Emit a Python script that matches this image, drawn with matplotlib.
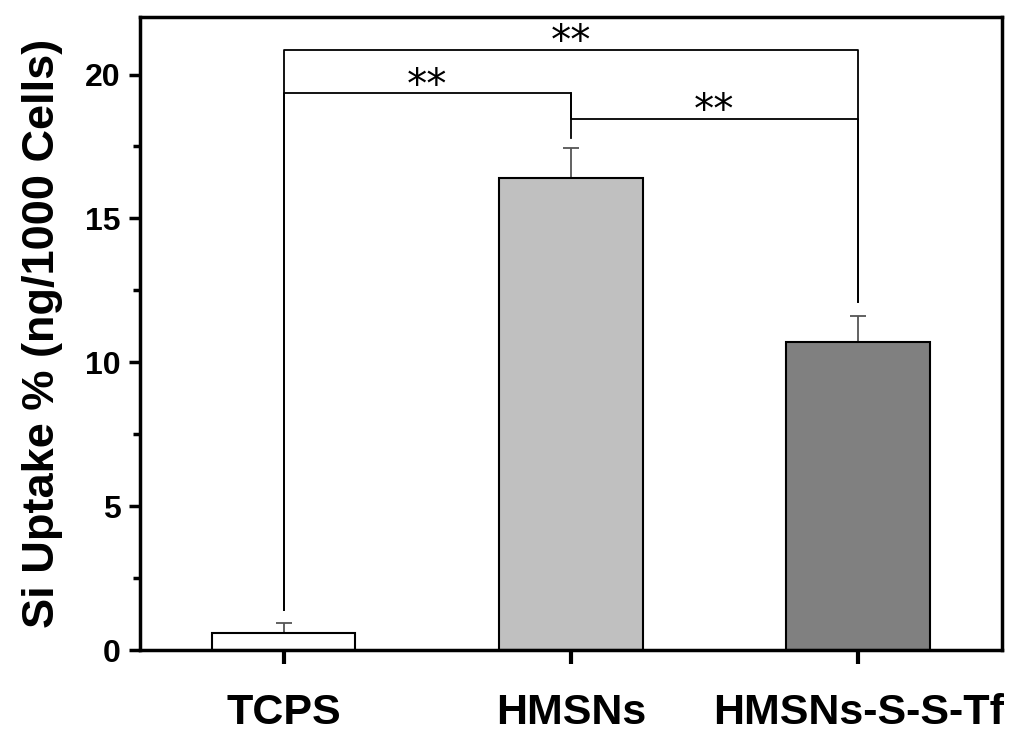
import numpy as np
import matplotlib
matplotlib.use('Agg')
from matplotlib import pyplot as plt
from matplotlib.ticker import MultipleLocator

groups = ['TCPS', 'HMSNs', 'HMSNs-S-S-Tf']
uptake = [0.6, 16.4, 10.7]
err = [0.35, 1.05, 0.92]
colors = ['white', '#c0c0c0', '#808080']

# significance brackets: (left group, right group, bracket height, left end, right end)
brackets = [
    (0, 2, 20.87, 1.4, 12.1),
    (0, 1, 19.37, 1.4, 17.8),
    (1, 2, 18.47, 19.37, 12.1),
]
sig_label = '**'

plt.rcParams['font.family'] = ['Liberation Sans', 'DejaVu Sans']

fig = plt.figure(figsize=(10.18, 7.33), dpi=100)
ax = fig.add_axes([0.1375, 0.1132, 0.8465, 0.8636])

x = np.arange(1, len(groups) + 1)
ax.bar(x, uptake, width=0.5, color=colors, edgecolor='black', linewidth=1.5, zorder=2)
ax.errorbar(x, uptake, yerr=[np.zeros(len(err)), err], fmt='none',
            ecolor='#555555', elinewidth=1.3, capsize=6, capthick=1.3, zorder=1)

for i, j, h, yl, yr in brackets:
    ax.plot([x[i], x[i], x[j], x[j]], [yl, h, h, yr], color='black', lw=1.3, zorder=3)
    ax.annotate(sig_label, ((x[i] + x[j]) / 2, h), xytext=(0, -3.5),
                textcoords='offset points', ha='center', va='baseline',
                fontsize=29, family='DejaVu Sans')

ax.set_xlim(0.5, 3.5)
ax.set_ylim(0, 22)
ax.set_xticks(x)
ax.set_xticklabels(groups, fontsize=31, fontweight='bold')
ax.yaxis.set_major_locator(MultipleLocator(5))
ax.yaxis.set_minor_locator(MultipleLocator(2.5))
ax.tick_params(axis='y', which='major', direction='out', length=8, width=2.5,
               labelsize=23, pad=6)
ax.tick_params(axis='y', which='minor', direction='out', length=5, width=2.5)
ax.tick_params(axis='x', direction='out', length=10, width=3, pad=21)
for lab in ax.get_yticklabels():
    lab.set_fontweight('bold')
for s in ax.spines.values():
    s.set_linewidth(2.5)

ax.set_ylabel('Si Uptake % (ng/1000 Cells)', fontsize=32.5, fontweight='bold', labelpad=16)

fig.savefig('out.png', dpi=100)
